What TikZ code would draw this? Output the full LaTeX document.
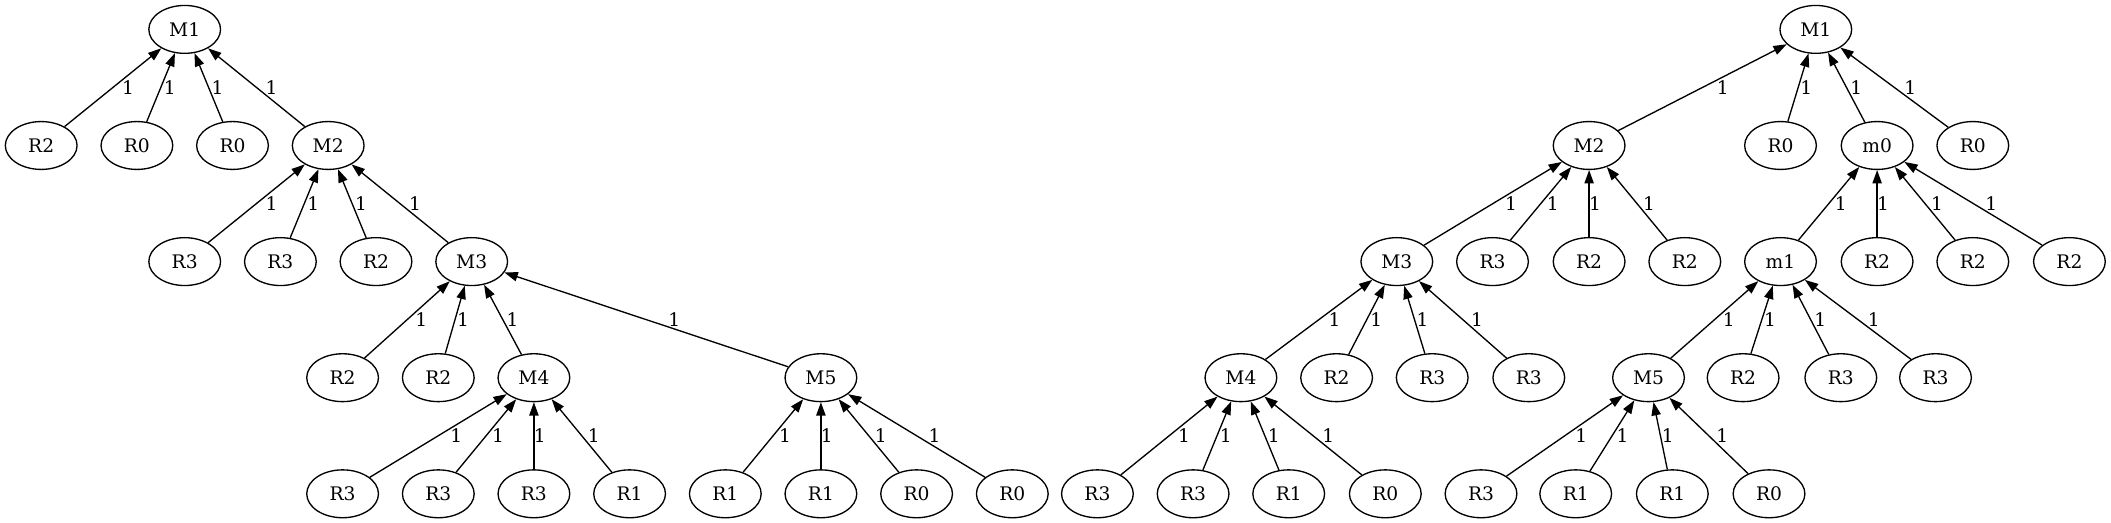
\documentclass[tikz,border=0pt]{standalone}
\usepackage{fontspec}
\setmainfont{DejaVu Serif}
\usetikzlibrary{shapes.geometric,arrows.meta,calc}

\tikzset{
  ell/.style={ellipse, draw, line width=1pt, minimum width=53.8pt, minimum height=35.9pt,
    inner sep=0pt, font=\fontsize{14pt}{16pt}\selectfont},
  toparent/.style={line width=1pt, -{Triangle[length=10pt,width=7pt]}},
  elabel/.style={inner sep=0pt, font=\fontsize{14pt}{16pt}\selectfont}
}

% child -> parent, weight label just right of the line
\newcommand{\treeedge}[2]{%
  \draw[toparent] (#1) -- (#2);
  \path let \p1=(#1), \p2=(#2) in
    node[elabel] at ({0.5*(\x1+\x2)+5.55pt*abs(\x2-\x1)/abs(\y2-\y1)+4.4pt}, {0.5*(\y1+\y2)}) {1};
}

\begin{document}
\begin{tikzpicture}[x=0.75pt, y=-0.75pt]
\useasboundingbox (0,0) rectangle (2111,523);

% left tree
\node[ell] (aM1) at (184.7,29.4) {M1};
\node[ell] (aR2a) at (41.2,145.5) {R2};
\node[ell] (aR0a) at (136.9,145.5) {R0};
\node[ell] (aR0b) at (232.5,145.5) {R0};
\node[ell] (aM2) at (328.2,145.5) {M2};
\node[ell] (aR3a) at (184.7,261.6) {R3};
\node[ell] (aR3b) at (280.4,261.6) {R3};
\node[ell] (aR2b) at (376.0,261.6) {R2};
\node[ell] (aM3) at (471.7,261.6) {M3};
\node[ell] (aR2c) at (342.6,377.7) {R2};
\node[ell] (aR2d) at (438.3,377.7) {R2};
\node[ell] (aM4) at (533.9,377.7) {M4};
\node[ell] (aM5) at (820.9,377.7) {M5};
\node[ell] (aR3c) at (342.6,493.8) {R3};
\node[ell] (aR3d) at (438.3,493.8) {R3};
\node[ell] (aR3e) at (533.9,493.8) {R3};
\node[ell] (aR1a) at (629.6,493.8) {R1};
\node[ell] (aR1b) at (725.3,493.8) {R1};
\node[ell] (aR1c) at (820.9,493.8) {R1};
\node[ell] (aR0c) at (916.6,493.8) {R0};
\node[ell] (aR0d) at (1012.3,493.8) {R0};

\treeedge{aR2a}{aM1}
\treeedge{aR0a}{aM1}
\treeedge{aR0b}{aM1}
\treeedge{aM2}{aM1}
\treeedge{aR3a}{aM2}
\treeedge{aR3b}{aM2}
\treeedge{aR2b}{aM2}
\treeedge{aM3}{aM2}
\treeedge{aR2c}{aM3}
\treeedge{aR2d}{aM3}
\treeedge{aM4}{aM3}
\treeedge{aM5}{aM3}
\treeedge{aR3c}{aM4}
\treeedge{aR3d}{aM4}
\treeedge{aR3e}{aM4}
\treeedge{aR1a}{aM4}
\treeedge{aR1b}{aM5}
\treeedge{aR1c}{aM5}
\treeedge{aR0c}{aM5}
\treeedge{aR0d}{aM5}

% right tree
\node[ell] (bM1) at (1815.8,29.4) {M1};
\node[ell] (bM2) at (1589.1,145.5) {M2};
\node[ell] (bR0a) at (1780.5,145.5) {R0};
\node[ell] (bm0) at (1877.1,145.5) {m0};
\node[ell] (bR0b) at (1972.8,145.5) {R0};
\node[ell] (bM3) at (1396.8,261.6) {M3};
\node[ell] (bR3a) at (1492.5,261.6) {R3};
\node[ell] (bR2a) at (1589.1,261.6) {R2};
\node[ell] (bR2b) at (1684.8,261.6) {R2};
\node[ell] (bm1) at (1780.5,261.6) {m1};
\node[ell] (bR2c) at (1877.1,261.6) {R2};
\node[ell] (bR2d) at (1972.8,261.6) {R2};
\node[ell] (bR2e) at (2069.4,261.6) {R2};
\node[ell] (bM4) at (1240.9,377.7) {M4};
\node[ell] (bR2f) at (1336.6,377.7) {R2};
\node[ell] (bR3b) at (1432.2,377.7) {R3};
\node[ell] (bR3c) at (1528.8,377.7) {R3};
\node[ell] (bM5) at (1648.5,377.7) {M5};
\node[ell] (bR2g) at (1743.1,377.7) {R2};
\node[ell] (bR3d) at (1840.8,377.7) {R3};
\node[ell] (bR3e) at (1935.5,377.7) {R3};
\node[ell] (bR3f) at (1097.4,493.8) {R3};
\node[ell] (bR3g) at (1193.1,493.8) {R3};
\node[ell] (bR1a) at (1288.7,493.8) {R1};
\node[ell] (bR0c) at (1385.3,493.8) {R0};
\node[ell] (bR3h) at (1481.0,493.8) {R3};
\node[ell] (bR1b) at (1575.7,493.8) {R1};
\node[ell] (bR1c) at (1672.3,493.8) {R1};
\node[ell] (bR0d) at (1769.0,493.8) {R0};

\treeedge{bM2}{bM1}
\treeedge{bR0a}{bM1}
\treeedge{bm0}{bM1}
\treeedge{bR0b}{bM1}
\treeedge{bM3}{bM2}
\treeedge{bR3a}{bM2}
\treeedge{bR2a}{bM2}
\treeedge{bR2b}{bM2}
\treeedge{bm1}{bm0}
\treeedge{bR2c}{bm0}
\treeedge{bR2d}{bm0}
\treeedge{bR2e}{bm0}
\treeedge{bM4}{bM3}
\treeedge{bR2f}{bM3}
\treeedge{bR3b}{bM3}
\treeedge{bR3c}{bM3}
\treeedge{bM5}{bm1}
\treeedge{bR2g}{bm1}
\treeedge{bR3d}{bm1}
\treeedge{bR3e}{bm1}
\treeedge{bR3f}{bM4}
\treeedge{bR3g}{bM4}
\treeedge{bR1a}{bM4}
\treeedge{bR0c}{bM4}
\treeedge{bR3h}{bM5}
\treeedge{bR1b}{bM5}
\treeedge{bR1c}{bM5}
\treeedge{bR0d}{bM5}
\end{tikzpicture}
\end{document}
